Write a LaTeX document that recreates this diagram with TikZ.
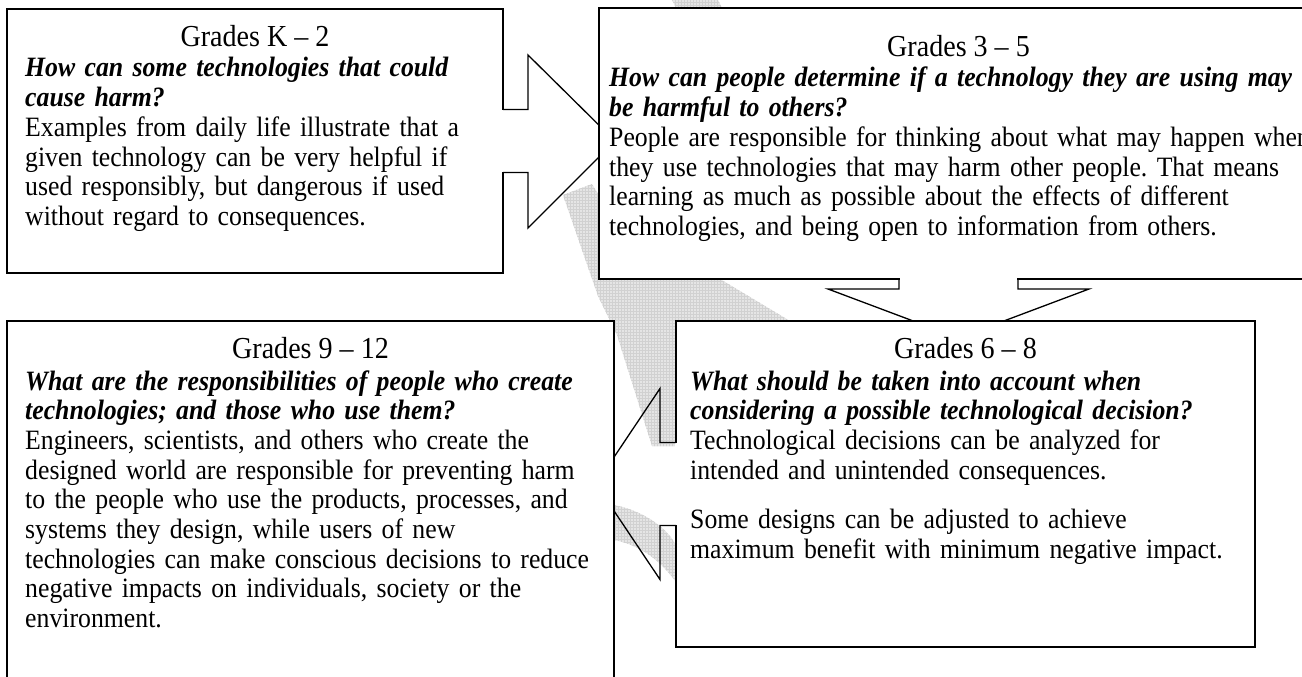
\documentclass[tikz,border=0pt]{standalone}
\usepackage{fontspec}
\setmainfont{Liberation Serif}[FakeStretch=0.92]
\usetikzlibrary{calc,patterns}
\frenchspacing
\begin{document}
\begin{tikzpicture}[x=1pt,y=-1pt,
  frame/.style={anchor=north west, inner sep=0pt, outer sep=0pt},
  boxline/.style={draw=black, line width=2pt, fill=white},
  arrowline/.style={draw=black, line width=1.3pt, line join=miter},
  gapfill/.style={fill=white},
  watermark/.style={fill=black!10, postaction={pattern=grid, pattern color=black!18}},
  title/.style={anchor=base, inner sep=0pt, font=\fontsize{30.5}{32}\selectfont},
  txt/.style={anchor=base west, inner sep=0pt, align=left, text width=760pt, font=\fontsize{28}{29.7}\selectfont},
]
\useasboundingbox (0,0) rectangle (1302,677);
\clip (0,0) rectangle (1302,677);
% box frames (positions only)
\path node[frame, minimum width=496pt, minimum height=264pt] (k2) at (7,9) {};
\path node[frame, minimum width=719pt, minimum height=271pt] (g35) at (599,8) {};
\path node[frame, minimum width=579pt, minimum height=326pt] (g68) at (676,321) {};
\path node[frame, minimum width=607pt, minimum height=379pt] (g912) at (7,321) {};

% faint watermark behind the boxes
\fill[watermark] (563,195) -- (592,184) -- (640,262) -- (720,279) -- (790,321) -- (700,321) -- (676,330) -- (676,446) -- (652,446) -- (617,335) -- (598,296) -- cycle;
\fill[watermark] (614,505) .. controls (640,510) and (665,525) .. (676,545) -- (676,582) .. controls (660,560) and (640,545) .. (614,540) -- cycle;
\fill[watermark] (672,0) -- (718,0) -- (722,8) -- (676,8) -- cycle;

% Grades K-2
\path[boxline] (k2.north west) rectangle (k2.south east);
\node[title] (k2t) at ($(k2.north)+(0,38)$) {Grades K -- 2};
\node[txt] (k2b) at ($(k2.north west)+(18,68)$) {\textbf{\textit{How can some technologies that could\\
cause harm?}}\\
Examples from daily life illustrate that a\\
given technology can be very helpful if\\
used responsibly, but dangerous if used\\
without regard to consequences.};

% arrow K-2 -> 3-5
\fill[gapfill] ($(k2.east)+(-1.3,-30.8)$) rectangle ($(k2.east)+(1.3,30.8)$);
\path[arrowline] ($(k2.east)+(0,-31.5)$) -- ($(k2.east)+(25,-31.5)$) -- ($(k2.east)+(25,-86)$) -- ($(k2.east)+(112,0)$) -- ($(k2.east)+(25,87)$) -- ($(k2.east)+(25,31.5)$) -- ($(k2.east)+(0,31.5)$);

% Grades 3-5
\path[boxline] (g35.north west) rectangle (g35.south east);
\node[title] (g35t) at ($(g35.north)+(0,49)$) {Grades 3 -- 5};
\node[txt] (g35b) at ($(g35.north west)+(10,79)$) {\textbf{\textit{How can people determine if a technology they are using may\\
be harmful to others?}}\\
People are responsible for thinking about what may happen when\\
they use technologies that may harm other people. That means\\
learning as much as possible about the effects of different\\
technologies, and being open to information from others.};

% arrow 3-5 -> 6-8
\fill[gapfill] ($(g35.south)+(-58.8,-1.3)$) rectangle ($(g35.south)+(58.8,1.3)$);
\path[arrowline] ($(g35.south)+(-59.5,0)$) -- ($(g35.south)+(-59.5,10)$) -- ($(g35.south)+(-130.5,10)$) -- ($(g35.south)+(0,59)$) -- ($(g35.south)+(130.5,10)$) -- ($(g35.south)+(59.5,10)$) -- ($(g35.south)+(59.5,0)$);

% Grades 6-8
\path[boxline] (g68.north west) rectangle (g68.south east);
\node[title] (g68t) at ($(g68.north)+(0,37)$) {Grades 6 -- 8};
\node[txt] (g68b) at ($(g68.north west)+(14,69)$) {\textbf{\textit{What should be taken into account when\\
considering a possible technological decision?}}\\
Technological decisions can be analyzed for\\
intended and unintended consequences.\\[20pt]
Some designs can be adjusted to achieve\\
maximum benefit with minimum negative impact.};

% arrow 6-8 -> 9-12
\fill[gapfill] ($(g68.west)+(-1.3,-40.8)$) rectangle ($(g68.west)+(1.3,40.8)$);
\path[arrowline] ($(g68.west)+(0,-41.5)$) -- ($(g68.west)+(-16,-41.5)$) -- ($(g68.west)+(-16,-95.5)$) -- ($(g68.west)+(-80,0)$) -- ($(g68.west)+(-16,95.5)$) -- ($(g68.west)+(-16,41.5)$) -- ($(g68.west)+(0,41.5)$);

% Grades 9-12
\path[boxline] (g912.north west) rectangle (g912.south east);
\node[title] (g912t) at ($(g912.north)+(0,37)$) {Grades 9 -- 12};
\node[txt] (g912b) at ($(g912.north west)+(18,69)$) {\textbf{\textit{What are the responsibilities of people who create\\
technologies; and those who use them?}}\\
Engineers, scientists, and others who create the\\
designed world are responsible for preventing harm\\
to the people who use the products, processes, and\\
systems they design, while users of new\\
technologies can make conscious decisions to reduce\\
negative impacts on individuals, society or the\\
environment.};
\end{tikzpicture}
\end{document}
